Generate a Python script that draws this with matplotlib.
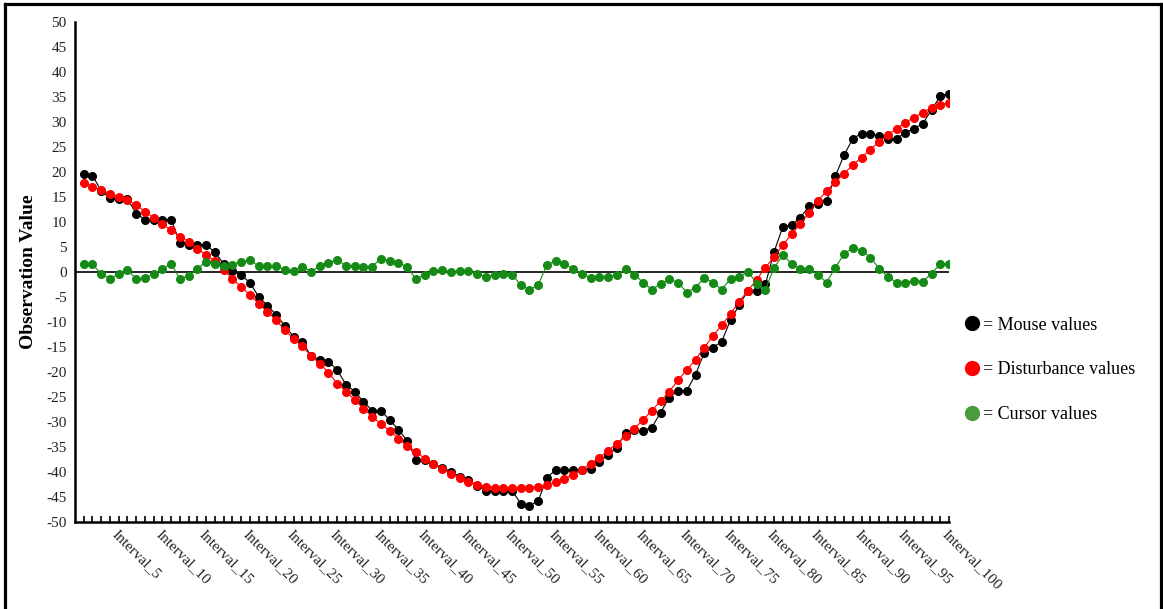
import matplotlib.pyplot as plt
from matplotlib.lines import Line2D

# one observation per interval, intervals 1..100
intervals = ['Interval_' + str(i) for i in range(1, 101)]

mouse = [19.7, 19.3, 16.2, 14.8, 14.6, 14.6, 11.7, 10.5, 10.5, 10.5,
         10.5, 5.9, 5.4, 5.4, 5.4, 4.0, 1.6, 0.2, -0.6, -2.1,
         -4.9, -6.7, -8.5, -10.8, -12.9, -13.9, -16.8, -17.5, -17.9, -19.6,
         -22.5, -23.9, -25.9, -27.7, -27.7, -29.6, -31.5, -33.7, -37.5, -37.6,
         -38.4, -39.1, -39.9, -40.9, -41.6, -42.7, -43.7, -43.7, -43.7, -43.7,
         -46.3, -46.7, -45.8, -41.1, -39.6, -39.6, -39.6, -39.5, -39.3, -37.9,
         -36.6, -35.1, -32.1, -31.6, -31.7, -31.1, -28.1, -25.1, -23.7, -23.7,
         -20.5, -16.1, -15.1, -13.9, -9.6, -6.6, -3.7, -3.7, -2.4, 4.1,
         9.1, 9.4, 10.9, 13.2, 13.7, 14.3, 19.2, 23.4, 26.7, 27.7,
         27.7, 27.2, 26.7, 26.7, 27.9, 28.7, 29.7, 32.4, 35.2, 35.7]

disturbance = [17.9, 17.1, 16.4, 15.7, 15.1, 14.4, 13.4, 12.1, 10.8, 9.6,
               8.4, 7.1, 6.1, 4.7, 3.4, 2.2, 0.5, -1.4, -2.9, -4.6,
               -6.3, -7.9, -9.6, -11.6, -13.3, -14.8, -16.8, -18.3, -20.1, -22.3,
               -23.9, -25.6, -27.3, -28.9, -30.4, -31.7, -33.3, -34.8, -35.9, -37.3,
               -38.4, -39.3, -40.4, -41.1, -41.9, -42.6, -42.9, -43.1, -43.2, -43.2,
               -43.2, -43.2, -42.9, -42.6, -41.9, -41.3, -40.5, -39.5, -38.3, -37.1,
               -35.7, -34.3, -32.8, -31.3, -29.6, -27.7, -25.8, -23.9, -21.6, -19.6,
               -17.5, -15.1, -12.8, -10.6, -8.4, -5.9, -3.7, -1.5, 0.9, 3.1,
               5.4, 7.6, 9.6, 11.9, 14.3, 16.2, 18.1, 19.7, 21.4, 22.9,
               24.5, 26.1, 27.4, 28.7, 29.9, 30.9, 31.9, 32.9, 33.4, 33.9]

cursor = [1.6, 1.6, -0.4, -1.3, -0.4, 0.5, -1.4, -1.2, -0.4, 0.6,
          1.7, -1.4, -0.7, 0.6, 2.1, 1.7, 1.2, 1.5, 2.1, 2.4,
          1.2, 1.2, 1.2, 0.5, 0.3, 1.1, 0.1, 1.2, 1.9, 2.4,
          1.3, 1.3, 1.1, 1.1, 2.7, 2.2, 1.9, 1.0, -1.4, -0.6,
          0.2, 0.4, 0.1, 0.2, 0.2, -0.4, -0.9, -0.6, -0.3, -0.5,
          -2.6, -3.5, -2.6, 1.5, 2.2, 1.7, 0.6, -0.4, -1.1, -0.9,
          -0.9, -0.6, 0.6, -0.5, -2.1, -3.5, -2.4, -1.4, -2.1, -4.1,
          -3.1, -1.2, -2.1, -3.5, -1.4, -0.9, 0.1, -2.3, -3.5, 0.9,
          3.4, 1.6, 0.7, 0.7, -0.6, -2.1, 0.9, 3.6, 4.9, 4.3,
          2.9, 0.7, -0.9, -2.1, -2.1, -1.7, -1.9, -0.3, 1.6, 1.6]

plt.rcParams['font.family'] = 'Liberation Serif'
plt.rcParams['axes.unicode_minus'] = False

W, H = 1163, 609
fig = plt.figure(figsize=(W / 100, H / 100), dpi=100)
ax = fig.add_axes([75 / W, 1 - 522 / H, (949 - 75) / W, 500 / H])

x = list(range(1, len(intervals) + 1))
ax.axhline(0, color='black', lw=1.2, zorder=2)
ax.plot(x, mouse, color='black', lw=0.8, marker='o', ms=5.5, zorder=3)
ax.plot(x, disturbance, color='red', lw=0.8, marker='o', ms=5.5, zorder=4)
ax.plot(x, cursor, color='#168a16', lw=0.8, marker='o', ms=5.5, zorder=5)

ax.set_xlim(0, 100)
ax.set_ylim(-50, 50)
ax.set_yticks(range(-50, 55, 5))
ax.set_xticks(x)
ax.set_xticklabels([lab if i % 5 == 0 else '' for i, lab in enumerate(intervals, 1)],
                   rotation=-45, ha='left', va='top', rotation_mode='anchor',
                   fontsize=11, color='#222222')
ax.tick_params(axis='x', direction='in', length=4, width=1.2, pad=4)
ax.tick_params(axis='y', length=0, pad=6, labelsize=11, labelcolor='#222222')
ax.spines['top'].set_visible(False)
ax.spines['right'].set_visible(False)
ax.spines['left'].set_linewidth(1.8)
ax.spines['bottom'].set_linewidth(1.8)

ax.set_ylabel('Observation Value', fontsize=14, fontweight='bold')
ax.yaxis.set_label_coords(-0.043, 0.5)

# key on the right
handles = [Line2D([], [], ls='none', marker='o', ms=10, color='black'),
           Line2D([], [], ls='none', marker='o', ms=10, color='#ff0000'),
           Line2D([], [], ls='none', marker='o', ms=10, color='#4b9c3e')]
labels = ['= Mouse values', '= Disturbance values', '= Cursor values']
fig.legend(handles, labels, loc='center left', bbox_to_anchor=(965 / W, 1 - 370 / H),
           frameon=False, fontsize=13, handlelength=0.8, handletextpad=0.2,
           labelspacing=1.55, borderpad=0, borderaxespad=0)

# border round the figure (left, top, right)
xl, xr, yt = 4.5 / W, 1161 / W, 1 - 4 / H
for xs, ys in [([xl, xl], [0, yt]), ([xl, xr], [yt, yt]), ([xr, xr], [0, yt])]:
    fig.add_artist(Line2D(xs, ys, color='black', lw=2.3, solid_capstyle='projecting'))

fig.savefig('out.png', dpi=100)
